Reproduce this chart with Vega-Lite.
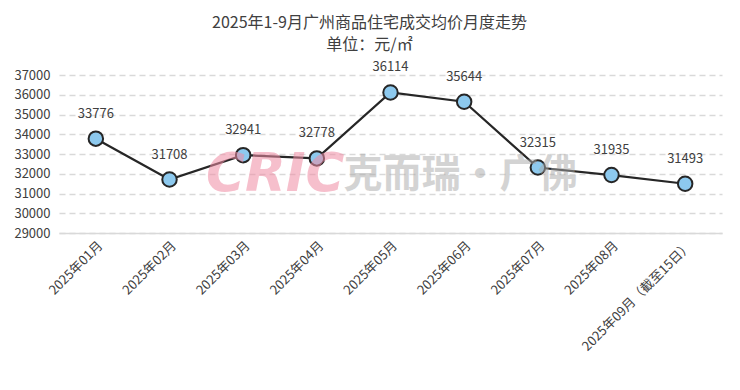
{
  "$schema": "https://vega.github.io/schema/vega-lite/v6.json",
  "autosize": {"type": "none"},
  "width": 663,
  "height": 158,
  "padding": {"left": 59, "top": 75, "right": 18, "bottom": 157},
  "background": "white",
  "title": {
    "text": ["2025年1-9月广州商品住宅成交均价月度走势", "单位：元/㎡"],
    "font": "Noto Sans CJK SC",
    "fontSize": 16,
    "fontWeight": "normal",
    "color": "#404040",
    "lineHeight": 22,
    "anchor": "middle",
    "dx": -21,
    "offset": 8
  },
  "config": {
    "view": {"stroke": null},
    "font": "Noto Sans CJK SC",
    "axisX": {"title": null, "labelAngle": -45, "labelAlign": "right", "labelBaseline": "top", "labelFontSize": 13, "labelColor": "#404040", "labelPadding": 6, "ticks": false, "domain": true, "domainColor": "#d9d9d9", "domainWidth": 1.5, "labelFont": "Noto Sans CJK SC", "grid": false},
    "axisY": {"title": null, "labelFontSize": 13, "labelColor": "#404040", "labelPadding": 9, "ticks": false, "domain": false, "grid": true, "gridColor": "#d9d9d9", "gridDash": [6, 4], "gridWidth": 1.3, "labelFont": "Noto Sans CJK SC"}
  },
  "data": {
    "values": [
      {"month": "2025年01月", "price": 33776},
      {"month": "2025年02月", "price": 31708},
      {"month": "2025年03月", "price": 32941},
      {"month": "2025年04月", "price": 32778},
      {"month": "2025年05月", "price": 36114},
      {"month": "2025年06月", "price": 35644},
      {"month": "2025年07月", "price": 32315},
      {"month": "2025年08月", "price": 31935},
      {"month": "2025年09月（截至15日）", "price": 31493}
    ]
  },
  "layer": [
    {
      "mark": {"type": "line", "color": "#262626", "strokeWidth": 2.2},
      "encoding": {
        "x": {"field": "month", "type": "ordinal", "sort": null, "scale": {"paddingInner": 0, "paddingOuter": 0.5}, "axis": {"title": null}},
        "y": {"field": "price", "type": "quantitative", "scale": {"domain": [29000, 37000], "nice": false, "zero": false}, "axis": {"title": null, "values": [29000, 30000, 31000, 32000, 33000, 34000, 35000, 36000, 37000], "format": "d"}}
      }
    },
    {
      "mark": {"type": "point", "filled": true, "fill": "#8DC9EE", "stroke": "#262626", "strokeWidth": 2, "size": 210, "opacity": 1},
      "encoding": {
        "x": {"field": "month", "type": "ordinal", "sort": null, "axis": {"title": null}},
        "y": {"field": "price", "type": "quantitative", "axis": {"title": null, "values": [29000, 30000, 31000, 32000, 33000, 34000, 35000, 36000, 37000], "format": "d"}}
      }
    },
    {
      "mark": {"type": "text", "dy": -25, "fontSize": 13, "color": "#404040", "font": "Noto Sans CJK SC"},
      "encoding": {
        "x": {"field": "month", "type": "ordinal", "sort": null, "axis": {"title": null}},
        "y": {"field": "price", "type": "quantitative", "axis": {"title": null, "values": [29000, 30000, 31000, 32000, 33000, 34000, 35000, 36000, 37000], "format": "d"}},
        "text": {"field": "price", "type": "quantitative", "format": "d"}
      }
    },
    {
      "data": {"values": [{"w": "CRIC"}]},
      "mark": {"type": "text", "fontSize": 53, "fontStyle": "italic", "fontWeight": "bold", "font": "DejaVu Sans", "color": "#F08CA4", "opacity": 0.55, "dx": 32},
      "encoding": {
        "x": {"datum": "2025年03月", "type": "ordinal", "axis": {"title": null}},
        "y": {"datum": 31950, "type": "quantitative", "axis": {"title": null, "values": [29000, 30000, 31000, 32000, 33000, 34000, 35000, 36000, 37000], "format": "d"}},
        "text": {"field": "w", "type": "nominal"}
      }
    },
    {
      "data": {"values": [{"w": "克而瑞·广佛"}]},
      "mark": {"type": "text", "fontSize": 39, "fontWeight": "bold", "font": "Noto Sans CJK SC", "color": "#A8A8A8", "opacity": 0.5, "dx": 70},
      "encoding": {
        "x": {"datum": "2025年05月", "type": "ordinal", "axis": {"title": null}},
        "y": {"datum": 31950, "type": "quantitative", "axis": {"title": null, "values": [29000, 30000, 31000, 32000, 33000, 34000, 35000, 36000, 37000], "format": "d"}},
        "text": {"field": "w", "type": "nominal"}
      }
    }
  ]
}
